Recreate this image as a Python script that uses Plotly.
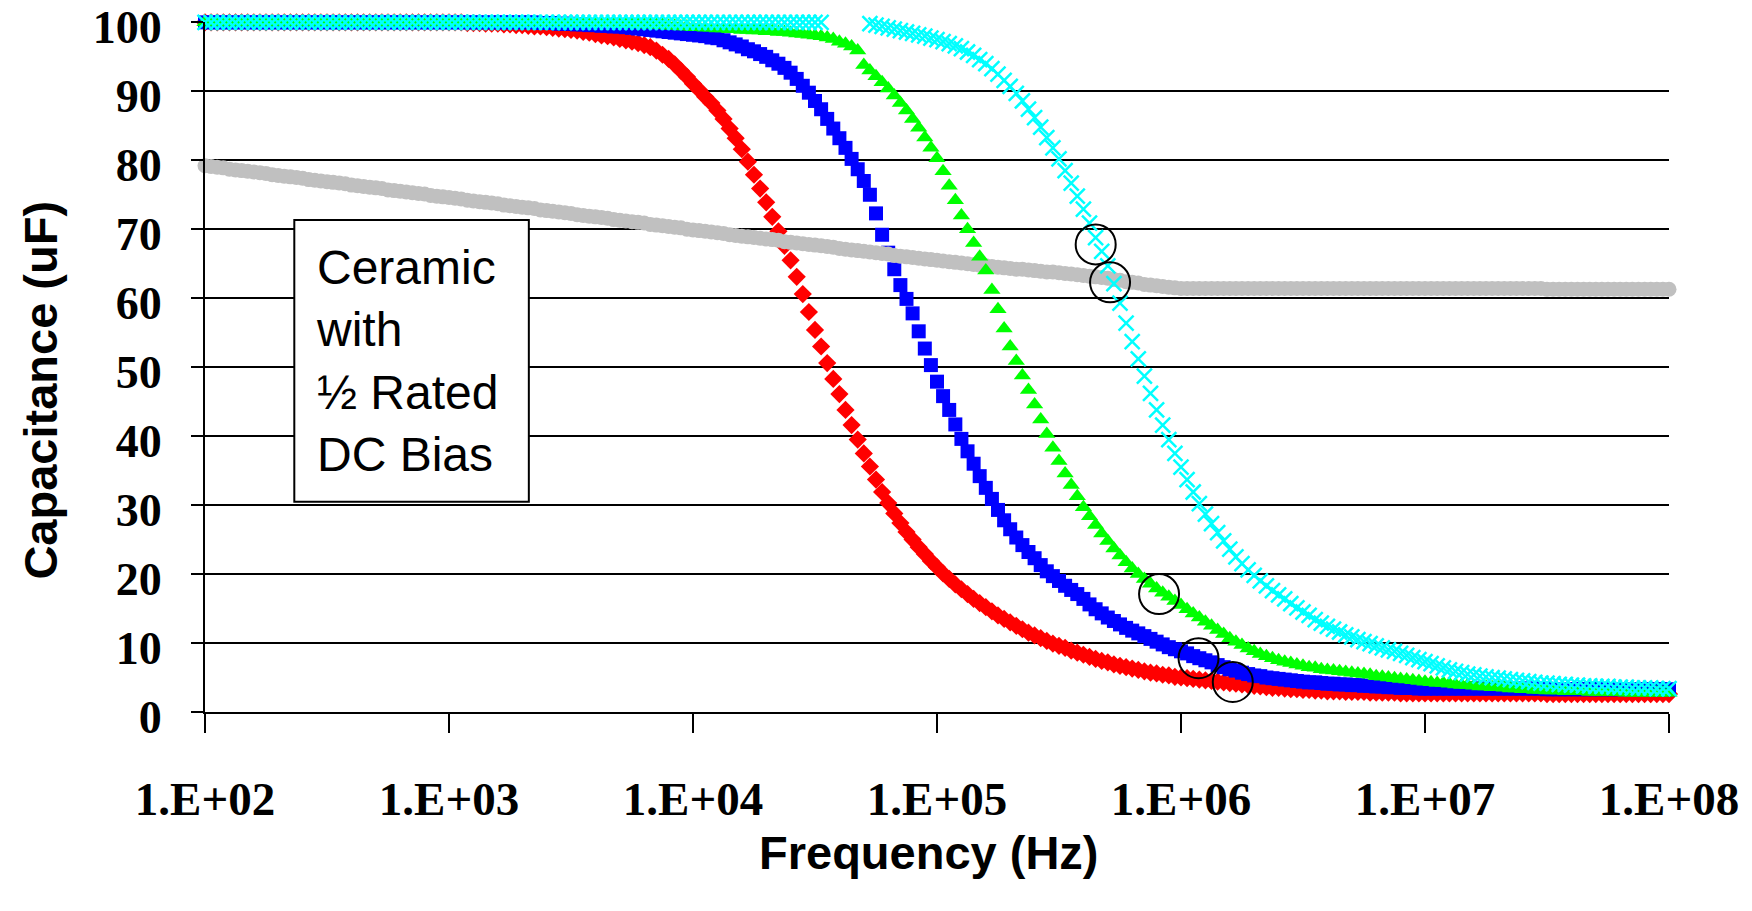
import plotly.graph_objects as go

# ---------------- data ----------------
# Frequency sweep: 40 points per decade from 1e2 to 1e8 Hz
DECADES = [1e2, 1e3, 1e4, 1e5, 1e6, 1e7]
MANTISSA = [1.000, 1.059, 1.122, 1.189, 1.259, 1.334, 1.413, 1.496, 1.585, 1.679,
            1.778, 1.884, 1.995, 2.113, 2.239, 2.371, 2.512, 2.661, 2.818, 2.985,
            3.162, 3.350, 3.548, 3.758, 3.981, 4.217, 4.467, 4.732, 5.012, 5.309,
            5.623, 5.957, 6.310, 6.683, 7.079, 7.499, 7.943, 8.414, 8.913, 9.441]
LAST_FREQ = 1e8
freq_hz = [d * m for d in DECADES for m in MANTISSA] + [LAST_FREQ]

X_TICK_VALS = [1e2, 1e3, 1e4, 1e5, 1e6, 1e7, 1e8]
X_TICK_TEXT = ["1.E+02", "1.E+03", "1.E+04", "1.E+05", "1.E+06", "1.E+07", "1.E+08"]
Y_TICK_VALS = [0, 10, 20, 30, 40, 50, 60, 70, 80, 90, 100]

# red diamonds
cap_red = [
    100, 100, 100, 100, 100, 100, 100, 100, 100, 100,
    100, 100, 100, 100, 100, 100, 100, 100, 100, 100,
    100, 100, 100, 100, 100, 100, 100, 100, 100, 100,
    100, 100, 100, 100, 100, 100, 100, 100, 100, 100,
    100, 100, 100, 99.9, 99.9, 99.9, 99.8, 99.8, 99.8, 99.7,
    99.7, 99.6, 99.6, 99.5, 99.4, 99.4, 99.3, 99.2, 99.1, 99.0,
    98.9, 98.8, 98.6, 98.5, 98.3, 98.1, 98.0, 97.8, 97.6, 97.4,
    97.2, 97.0, 96.7, 96.4, 95.9, 95.3, 94.7, 93.9, 93.0, 92.1,
    91.1, 90.2, 89.2, 88.3, 87.2, 86.0, 84.6, 83.2, 81.6, 79.8,
    77.9, 75.9, 73.9, 71.8, 69.7, 67.6, 65.5, 63.1, 60.6, 58.0,
    55.4, 53.0, 50.6, 48.3, 46.1, 43.8, 41.6, 39.5, 37.5, 35.6,
    33.7, 31.9, 30.3, 28.8, 27.4, 26.1, 25.0, 23.9, 22.9, 21.9,
    21.0, 20.1, 19.3, 18.5, 17.8, 17.1, 16.4, 15.8, 15.2, 14.6,
    14.0, 13.5, 13.0, 12.5, 12.0, 11.5, 11.1, 10.7, 10.3, 9.9,
    9.6, 9.3, 8.9, 8.6, 8.3, 8.0, 7.7, 7.4, 7.2, 6.9,
    6.7, 6.5, 6.3, 6.1, 5.9, 5.7, 5.6, 5.4, 5.3, 5.1,
    5.0, 4.9, 4.8, 4.7, 4.6, 4.5, 4.4, 4.3, 4.2, 4.1,
    4.0, 3.9, 3.8, 3.7, 3.6, 3.5, 3.5, 3.4, 3.3, 3.3,
    3.2, 3.2, 3.1, 3.1, 3.0, 3.0, 3.0, 2.9, 2.9, 2.9,
    2.9, 2.8, 2.8, 2.8, 2.8, 2.8, 2.7, 2.7, 2.7, 2.7,
    2.7, 2.7, 2.7, 2.7, 2.7, 2.7, 2.7, 2.7, 2.7, 2.7,
    2.7, 2.7, 2.7, 2.7, 2.7, 2.7, 2.7, 2.7, 2.7, 2.7,
    2.6, 2.6, 2.6, 2.6, 2.6, 2.6, 2.6, 2.6, 2.6, 2.6,
    2.6, 2.6, 2.6, 2.6, 2.6, 2.6, 2.6, 2.6, 2.6, 2.6,
    2.6,
]

# blue squares
cap_blue = [
    100, 100, 100, 100, 100, 100, 100, 100, 100, 100,
    100, 100, 100, 100, 100, 100, 100, 100, 100, 100,
    100, 100, 100, 100, 100, 100, 100, 100, 100, 100,
    100, 100, 100, 100, 100, 100, 100, 100, 100, 100,
    100, 100, 100, 100, 100, 100, 100, 100, 100, 100,
    100, 100, 100, 100, 100, 99.9, 99.9, 99.9, 99.8, 99.8,
    99.8, 99.7, 99.7, 99.6, 99.6, 99.5, 99.5, 99.4, 99.4, 99.3,
    99.2, 99.1, 99.0, 98.9, 98.8, 98.7, 98.6, 98.5, 98.4, 98.3,
    98.2, 98.1, 98.0, 97.8, 97.7, 97.4, 97.1, 96.8, 96.5, 96.1,
    95.8, 95.4, 95.0, 94.5, 94.0, 93.4, 92.7, 91.8, 90.8, 89.8,
    88.6, 87.4, 86.0, 84.6, 83.2, 81.8, 80.2, 78.7, 77.0, 75.0,
    72.3, 69.2, 66.6, 64.2, 61.9, 59.9, 57.8, 55.2, 52.7, 50.3,
    47.9, 45.8, 43.8, 41.7, 39.6, 37.8, 36.0, 34.2, 32.5, 30.9,
    29.3, 27.8, 26.5, 25.3, 24.2, 23.2, 22.3, 21.3, 20.4, 19.7,
    19.0, 18.3, 17.7, 17.1, 16.4, 15.6, 14.9, 14.3, 13.7, 13.2,
    12.7, 12.2, 11.8, 11.4, 11.0, 10.6, 10.2, 9.8, 9.4, 9.1,
    8.8, 8.5, 8.1, 7.8, 7.5, 7.2, 6.8, 6.5, 6.2, 6.0,
    5.7, 5.5, 5.3, 5.2, 5.0, 4.9, 4.8, 4.7, 4.6, 4.5,
    4.4, 4.3, 4.3, 4.2, 4.1, 4.1, 4.0, 4.0, 3.9, 3.9,
    3.8, 3.8, 3.7, 3.7, 3.6, 3.6, 3.5, 3.5, 3.5, 3.4,
    3.4, 3.4, 3.4, 3.4, 3.4, 3.4, 3.4, 3.4, 3.4, 3.4,
    3.4, 3.4, 3.4, 3.4, 3.4, 3.4, 3.4, 3.4, 3.4, 3.4,
    3.3, 3.3, 3.3, 3.3, 3.3, 3.3, 3.3, 3.3, 3.3, 3.3,
    3.3, 3.3, 3.3, 3.3, 3.3, 3.3, 3.3, 3.3, 3.3, 3.3,
    3.3,
]

# green triangles
cap_green = [
    100, 100, 100, 100, 100, 100, 100, 100, 100, 100,
    100, 100, 100, 100, 100, 100, 100, 100, 100, 100,
    100, 100, 100, 100, 100, 100, 100, 100, 100, 100,
    100, 100, 100, 100, 100, 100, 100, 100, 100, 100,
    100, 100, 100, 100, 100, 100, 100, 100, 100, 100,
    100, 100, 100, 100, 100, 100, 100, 100, 100, 100,
    100, 100, 100, 99.9, 99.9, 99.9, 99.9, 99.8, 99.8, 99.8,
    99.8, 99.7, 99.7, 99.7, 99.6, 99.6, 99.5, 99.5, 99.4, 99.4,
    99.3, 99.3, 99.2, 99.2, 99.1, 99.1, 99.0, 99.0, 98.9, 98.9,
    98.8, 98.8, 98.7, 98.7, 98.6, 98.6, 98.5, 98.4, 98.3, 98.2,
    98.1, 98.0, 97.8, 97.6, 97.2, 96.9, 96.5, 95.9, 93.8, 93.0,
    92.2, 91.3, 90.4, 89.4, 88.3, 87.2, 86.0, 84.7, 83.3, 81.8,
    80.3, 78.4, 76.3, 74.2, 72.0, 70.0, 68.0, 66.0, 64.0, 61.2,
    58.4, 55.6, 53.0, 50.9, 48.8, 46.7, 44.6, 42.4, 40.3, 38.3,
    36.4, 34.6, 32.9, 31.3, 29.7, 28.4, 27.1, 25.9, 24.8, 23.7,
    22.7, 21.7, 20.8, 20.0, 19.3, 18.6, 17.9, 17.3, 16.7, 16.1,
    15.5, 14.9, 14.3, 13.7, 13.1, 12.5, 11.9, 11.3, 10.7, 10.2,
    9.7, 9.2, 8.8, 8.4, 8.1, 7.8, 7.5, 7.3, 7.1, 6.9,
    6.7, 6.5, 6.4, 6.2, 6.1, 6.0, 5.9, 5.8, 5.7, 5.6,
    5.5, 5.4, 5.2, 5.1, 5.0, 4.9, 4.8, 4.7, 4.6, 4.5,
    4.4, 4.3, 4.2, 4.2, 4.1, 4.0, 3.9, 3.9, 3.8, 3.7,
    3.7, 3.6, 3.6, 3.5, 3.4, 3.4, 3.3, 3.3, 3.2, 3.2,
    3.1, 3.1, 3.1, 3.0, 3.0, 3.0, 3.0, 2.9, 2.9, 2.9,
    2.9, 2.9, 2.9, 2.8, 2.8, 2.8, 2.8, 2.8, 2.8, 2.8,
    2.8,
]

# grey circles (ceramic, 1/2 rated DC bias)
cap_gray = [
    79.2, 79.1, 79.0, 78.9, 78.7, 78.6, 78.5, 78.4, 78.3, 78.2,
    78.1, 77.9, 77.8, 77.7, 77.6, 77.5, 77.4, 77.2, 77.1, 77.0,
    76.9, 76.8, 76.7, 76.6, 76.4, 76.3, 76.2, 76.1, 76.0, 75.9,
    75.7, 75.6, 75.5, 75.4, 75.3, 75.2, 75.1, 74.9, 74.8, 74.7,
    74.6, 74.5, 74.4, 74.2, 74.1, 74.0, 73.9, 73.8, 73.7, 73.5,
    73.4, 73.3, 73.2, 73.1, 73.0, 72.8, 72.7, 72.6, 72.5, 72.4,
    72.3, 72.1, 72.0, 71.9, 71.8, 71.7, 71.6, 71.4, 71.3, 71.2,
    71.1, 71.0, 70.9, 70.7, 70.6, 70.5, 70.4, 70.3, 70.2, 70.0,
    69.9, 69.8, 69.7, 69.6, 69.5, 69.4, 69.2, 69.1, 69.0, 68.9,
    68.8, 68.7, 68.6, 68.5, 68.4, 68.2, 68.1, 68.0, 67.9, 67.8,
    67.7, 67.6, 67.5, 67.4, 67.2, 67.1, 67.0, 66.9, 66.8, 66.7,
    66.6, 66.5, 66.4, 66.2, 66.1, 66.0, 65.9, 65.8, 65.7, 65.6,
    65.5, 65.4, 65.3, 65.2, 65.1, 65.0, 64.9, 64.8, 64.7, 64.6,
    64.5, 64.4, 64.3, 64.2, 64.2, 64.1, 64.0, 63.9, 63.8, 63.8,
    63.7, 63.6, 63.5, 63.4, 63.3, 63.2, 63.1, 63.0, 62.9, 62.7,
    62.6, 62.4, 62.3, 62.2, 62.0, 61.9, 61.8, 61.7, 61.6, 61.5,
    61.4, 61.4, 61.4, 61.4, 61.4, 61.4, 61.4, 61.4, 61.4, 61.4,
    61.4, 61.4, 61.4, 61.4, 61.4, 61.4, 61.4, 61.4, 61.4, 61.4,
    61.4, 61.4, 61.4, 61.4, 61.4, 61.4, 61.4, 61.4, 61.4, 61.4,
    61.4, 61.4, 61.4, 61.4, 61.4, 61.4, 61.4, 61.4, 61.4, 61.4,
    61.4, 61.4, 61.4, 61.4, 61.4, 61.4, 61.4, 61.4, 61.4, 61.4,
    61.4, 61.4, 61.4, 61.4, 61.4, 61.4, 61.4, 61.4, 61.4, 61.4,
    61.3, 61.3, 61.3, 61.3, 61.3, 61.3, 61.3, 61.3, 61.3, 61.3,
    61.3, 61.3, 61.3, 61.3, 61.3, 61.3, 61.3, 61.3, 61.3, 61.3,
    61.3,
]

# cyan crosses (gap where no points are plotted)
cap_cyan = [
    100, 100, 100, 100, 100, 100, 100, 100, 100, 100,
    100, 100, 100, 100, 100, 100, 100, 100, 100, 100,
    100, 100, 100, 100, 100, 100, 100, 100, 100, 100,
    100, 100, 100, 100, 100, 100, 100, 100, 100, 100,
    100, 100, 100, 100, 100, 100, 100, 100, 100, 100,
    100, 100, 100, 100, 100, 100, 100, 100, 100, 100,
    100, 100, 100, 100, 100, 100, 100, 100, 100, 100,
    100, 100, 100, 100, 100, 100, 100, 100, 100, 100,
    100, 100, 100, 100, 100, 100, 100, 100, 100, 100,
    100, 100, 100, 100, 100, 100, 100, 100, 100, 100,
    100, 100, None, None, None, None, None, None, None, 99.8,
    99.6, 99.4, 99.2, 99.0, 98.8, 98.6, 98.4, 98.2, 98.0, 97.7,
    97.5, 97.2, 96.9, 96.6, 96.2, 95.7, 95.2, 94.6, 94.0, 93.3,
    92.5, 91.6, 90.7, 89.7, 88.6, 87.4, 86.2, 84.8, 83.3, 81.8,
    80.2, 78.5, 76.7, 74.8, 72.9, 70.9, 68.8, 66.8, 64.7, 62.1,
    59.3, 56.4, 53.7, 51.2, 48.7, 46.2, 43.8, 41.6, 39.5, 37.5,
    35.5, 33.7, 31.9, 30.2, 28.7, 27.3, 26.0, 24.8, 23.6, 22.5,
    21.5, 20.6, 19.8, 19.0, 18.3, 17.6, 17.0, 16.4, 15.7, 15.1,
    14.5, 14.0, 13.4, 12.9, 12.4, 12.0, 11.6, 11.2, 10.9, 10.5,
    10.2, 9.9, 9.6, 9.3, 9.0, 8.8, 8.5, 8.2, 7.9, 7.6,
    7.3, 7.0, 6.7, 6.4, 6.1, 5.9, 5.7, 5.5, 5.4, 5.2,
    5.1, 5.0, 4.9, 4.8, 4.7, 4.6, 4.5, 4.4, 4.3, 4.2,
    4.2, 4.1, 4.0, 4.0, 3.9, 3.9, 3.8, 3.8, 3.7, 3.7,
    3.7, 3.6, 3.6, 3.6, 3.5, 3.5, 3.5, 3.5, 3.4, 3.4,
    3.4,
]

# highlighted crossing points (open black circles)
circle_freq = [4.47e5, 5.12e5, 8.13e5, 1.18e6, 1.63e6]
circle_cap = [67.8, 62.3, 17.1, 7.8, 4.35]

BOX_LINES = ["Ceramic", "with", "½ Rated", "DC Bias"]

# ---------------- figure ----------------
fig = go.Figure()

def add_series(cap, name, symbol, color, size, line_width=0):
    fig.add_trace(go.Scatter(
        x=freq_hz, y=cap, mode="markers", name=name,
        marker=dict(symbol=symbol, color=color, size=size,
                    line=dict(width=line_width, color=color)),
        cliponaxis=False, showlegend=False,
    ))

add_series(cap_red, "Capacitor A", "diamond", "#FF0000", 14)
add_series(cap_blue, "Capacitor B", "square", "#0000FF", 14)
add_series(cap_gray, "Ceramic, ½ rated DC bias", "circle", "#C0C0C0", 15)
add_series(cap_green, "Capacitor C", "triangle-up", "#00FF00", 15)
add_series(cap_cyan, "Capacitor D", "x-thin", "#00FFFF", 15, line_width=2.5)

fig.add_trace(go.Scatter(
    x=circle_freq, y=circle_cap, mode="markers", name="crossings",
    marker=dict(symbol="circle-open", size=40, color="black",
                line=dict(width=2, color="black")),
    cliponaxis=False, showlegend=False,
))

x_tick_font = dict(family="Liberation Serif", size=47, color="black", weight="bold")
y_tick_font = dict(family="Liberation Serif", size=46, color="black", weight="bold")
title_font = dict(family="Liberation Sans", size=47, color="black", weight="bold")

fig.update_layout(
    width=1752, height=911,
    margin=dict(l=205, r=83, t=22, b=199, autoexpand=False),
    paper_bgcolor="white", plot_bgcolor="white",
    showlegend=False,
    xaxis=dict(
        type="log", range=[2, 8], automargin=False,
        tickvals=X_TICK_VALS, ticktext=X_TICK_TEXT,
        ticks="outside", ticklen=19, tickwidth=2, tickcolor="black",
        showline=True, linecolor="black", linewidth=2,
        showgrid=False, zeroline=False,
        tickfont=x_tick_font, ticklabelstandoff=26,
        ticklabeloverflow="allow",
    ),
    yaxis=dict(
        range=[0, 100.05], automargin=False,
        tickvals=Y_TICK_VALS,
        ticks="outside", ticklen=12, tickwidth=2, tickcolor="black",
        showline=True, linecolor="black", linewidth=2,
        showgrid=True, gridcolor="black", gridwidth=2,
        zeroline=False,
        tickfont=y_tick_font, ticklabelstandoff=20, ticklabelshift=5,
        ticklabeloverflow="allow",
    ),
    shapes=[dict(
        type="rect", xref="paper", yref="paper",
        x0=0.0610, x1=0.2212, y0=0.3046, y1=0.7131,
        line=dict(color="black", width=2), fillcolor="white", layer="above",
    )],
    annotations=[
        dict(text="<br>".join(BOX_LINES), xref="paper", yref="paper",
             x=0.0745, y=0.508, xanchor="left", yanchor="middle", align="left",
             showarrow=False,
             font=dict(family="Liberation Sans", size=48, color="black")),
        dict(text="Capacitance (uF)", xref="paper", yref="paper",
             x=-0.113, y=0.4666, xanchor="center", yanchor="middle",
             textangle=-90, showarrow=False, font=title_font),
        dict(text="Frequency (Hz)", xref="paper", yref="paper",
             x=0.4947, y=-0.2035, xanchor="center", yanchor="middle",
             showarrow=False, font=title_font),
    ],
)

fig.write_html("out.html")
